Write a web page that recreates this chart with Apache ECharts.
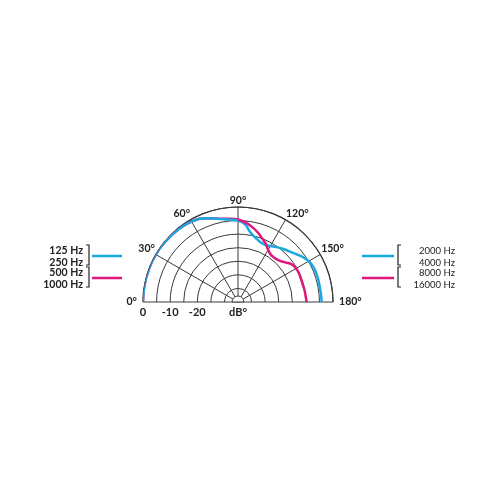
<!DOCTYPE html>
<html>
<head>
<meta charset="utf-8">
<script src="https://cdn.jsdelivr.net/npm/echarts@6/dist/echarts.min.js"></script>
<style>
  html, body { margin: 0; padding: 0; background: #fff; }
  #chart { width: 500px; height: 500px; }
</style>
</head>
<body>
<div id="chart"></div>
<script>
// ========================================
// DATA (dB relative to on-axis, per angle)
// ========================================

// left half: low frequencies
var lowAngles  = [0, 10, 20, 30, 40, 50, 60, 70, 80, 85, 90];
var lowBlue    = [0, 0, 0, 0, -0.2, -0.4, -0.8, -2.2, -4.0, -4.6, -5.0];
var lowMagenta = [0, 0, 0, 0, -0.2, -0.4, -0.8, -2.2, -3.9, -4.2, -4.6];

// right half: high frequencies
var highAngles  = [90, 95, 100, 105, 110, 115, 120, 125, 130, 135, 140, 145, 150, 155, 160, 165, 170, 175, 180];
var highBlue    = [-5.0, -6.2, -8.9, -10.4, -11.4, -11.7, -11.2, -10.3, -9.4, -8.5, -7.4, -6.0, -4.9, -4.4, -4.3, -4.3, -4.4, -4.3, -4.2];
var highMagenta = [-4.6, -5.5, -6.7, -8.1, -9.7, -11.1, -12.8, -13.8, -13.9, -13.4, -12.3, -10.8, -10.3, -10.2, -10.3, -10.3, -10.1, -10.0, -9.7];

var radiusLabels = { '0': '0', '-10': '-10', '-20': '-20', '-35': 'dB°' };
var leftLegend  = [['125 Hz', '250 Hz'], ['500 Hz', '1000 Hz']];
var rightLegend = [['2000 Hz', '4000 Hz'], ['8000 Hz', '16000 Hz']];

// ========================================
// STYLE
// ========================================
var BLUE = '#1aa8e2';
var MAGENTA = '#e0177c';
var INK = '#3a3a3a';
var FONT = 'Lato';
var CX = 238, CY = 302, R = 95;

function pairs(radii, angles) {
  return radii.map(function (r, i) { return [r, angles[i]]; });
}

function curve(values, angles, color, z) {
  return {
    type: 'line',
    coordinateSystem: 'polar',
    data: pairs(values, angles),
    smooth: true,
    symbol: 'none',
    lineStyle: { color: color, width: 2.5 },
    z: z,
    silent: true
  };
}

// end labels sit on the baseline, keep a small gap from the circle
function angleLabel(v) {
  if (v === 0) return '0°  ';
  if (v === 180) return '  180°';
  return v + '°';
}

// legend block: two-line labels, a bracket and a colour stroke
function legendBlock(labels, color, top, side) {
  var els = [];
  var textX = side === 'left' ? 83 : 455;
  var brX = side === 'left' ? 89 : 398;
  var brTip = side === 'left' ? -3 : 3;
  var lineX = side === 'left' ? [92, 122] : [362, 394];
  labels.forEach(function (t, i) {
    els.push({
      type: 'text',
      style: {
        x: textX, y: top + 4 + i * 11.5, text: t,
        align: 'right', verticalAlign: 'middle',
        fontFamily: FONT,
        fontSize: side === 'left' ? 10.5 : 9.5,
        fontWeight: side === 'left' ? 'bold' : 'normal',
        fill: '#222'
      }
    });
  });
  els.push({
    type: 'polyline',
    shape: { points: [[brX + brTip, top - 2], [brX, top - 2], [brX, top + 18], [brX + brTip, top + 18]] },
    style: { stroke: '#222', lineWidth: 1.2, fill: null }
  });
  els.push({
    type: 'line',
    shape: { x1: lineX[0], y1: top + 9, x2: lineX[1], y2: top + 9 },
    style: { stroke: color, lineWidth: 2.5 }
  });
  return els;
}

var graphics = [{
  type: 'sector',
  shape: { cx: CX, cy: CY, r0: 0, r: 6, startAngle: Math.PI, endAngle: 2 * Math.PI },
  style: { fill: '#fff', stroke: INK, lineWidth: 1 },
  z: 10
}]
  .concat(legendBlock(leftLegend[0], BLUE, 247, 'left'))
  .concat(legendBlock(leftLegend[1], MAGENTA, 269, 'left'))
  .concat(legendBlock(rightLegend[0], BLUE, 247, 'right'))
  .concat(legendBlock(rightLegend[1], MAGENTA, 269, 'right'));

var chart = echarts.init(document.getElementById('chart'));
chart.setOption({
  animation: false,
  backgroundColor: '#fff',
  polar: { center: [CX, CY], radius: R },
  angleAxis: {
    type: 'value',
    min: 0, max: 180, interval: 30,
    startAngle: 180, endAngle: 0, clockwise: true,
    axisLine: { lineStyle: { color: INK, width: 1.2 } },
    axisTick: { show: false },
    axisLabel: {
      formatter: angleLabel, color: '#222', margin: 1,
      fontFamily: FONT, fontSize: 10.5, fontWeight: 'bold'
    },
    splitLine: { show: true, lineStyle: { color: INK, width: 1 } }
  },
  radiusAxis: {
    type: 'value',
    min: -35, max: 0, interval: 5,
    axisLine: { show: false },
    axisTick: { show: false },
    axisLabel: {
      formatter: function (v) { return radiusLabels[String(v)] || ''; },
      color: '#222', margin: 5,
      fontFamily: FONT, fontSize: 11, fontWeight: 'bold'
    },
    splitLine: { show: true, lineStyle: { color: INK, width: 1 } }
  },
  series: [
    curve(lowMagenta, lowAngles, MAGENTA, 3),
    curve(lowBlue, lowAngles, BLUE, 4),
    curve(highBlue, highAngles, BLUE, 3),
    curve(highMagenta, highAngles, MAGENTA, 4)
  ],
  graphic: graphics
});
</script>
</body>
</html>
